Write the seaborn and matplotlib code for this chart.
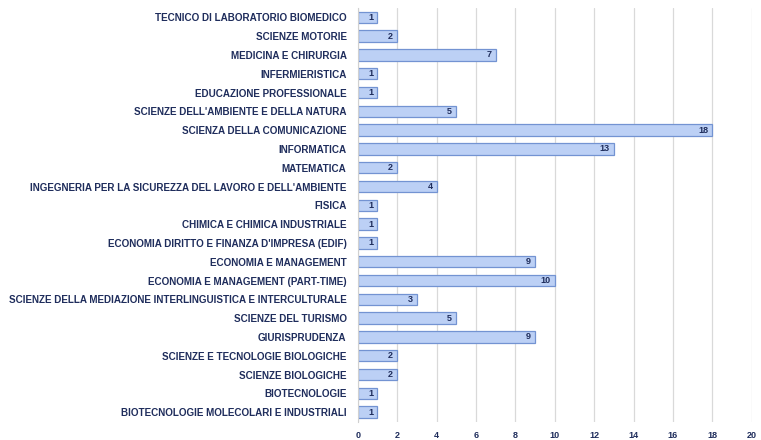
import matplotlib
matplotlib.use("Agg")
import matplotlib.pyplot as plt
import seaborn as sns
import pandas as pd

corsi = [
    "TECNICO DI LABORATORIO BIOMEDICO",
    "SCIENZE MOTORIE",
    "MEDICINA E CHIRURGIA",
    "INFERMIERISTICA",
    "EDUCAZIONE PROFESSIONALE",
    "SCIENZE DELL'AMBIENTE E DELLA NATURA",
    "SCIENZA DELLA COMUNICAZIONE",
    "INFORMATICA",
    "MATEMATICA",
    "INGEGNERIA PER LA SICUREZZA DEL LAVORO E DELL'AMBIENTE",
    "FISICA",
    "CHIMICA E CHIMICA INDUSTRIALE",
    "ECONOMIA DIRITTO E FINANZA D'IMPRESA (EDIF)",
    "ECONOMIA E MANAGEMENT",
    "ECONOMIA E MANAGEMENT (PART-TIME)",
    "SCIENZE DELLA MEDIAZIONE INTERLINGUISTICA E INTERCULTURALE",
    "SCIENZE DEL TURISMO",
    "GIURISPRUDENZA",
    "SCIENZE E TECNOLOGIE BIOLOGICHE",
    "SCIENZE BIOLOGICHE",
    "BIOTECNOLOGIE",
    "BIOTECNOLOGIE MOLECOLARI E INDUSTRIALI",
]
valori = [1, 2, 7, 1, 1, 5, 18, 13, 2, 4, 1, 1, 1, 9, 10, 3, 5, 9, 2, 2, 1, 1]
xticks = [0, 2, 4, 6, 8, 10, 12, 14, 16, 18, 20]

df = pd.DataFrame({"corso": corsi, "n": valori})

sns.set_style("white")
plt.rcParams["font.family"] = ["Liberation Sans Narrow", "Liberation Sans", "DejaVu Sans"]

testo = "#1f2d5c"

fig = plt.figure(figsize=(7.61, 4.4), dpi=100)
ax = fig.add_axes([0.470, 0.042, 0.518, 0.94])

sns.barplot(data=df, x="n", y="corso", orient="h", color="#bcd0f5",
            edgecolor="#7393d2", linewidth=0.9, width=0.6, saturation=1, ax=ax)

ax.set_xlim(0, 20)
ax.set_xticks(xticks)
ax.set_xticklabels([str(t) for t in xticks], fontsize=6.5, fontweight="bold", color=testo)
ax.tick_params(axis="y", labelsize=7.1, labelcolor=testo, length=0, pad=8)
for lab in ax.get_yticklabels():
    lab.set_fontweight("bold")
ax.tick_params(axis="x", length=0, pad=7)
ax.set_xlabel("")
ax.set_ylabel("")

ax.grid(axis="x", color="#d9d9d9", linewidth=0.9)
ax.set_axisbelow(True)
for s in ["top", "right", "bottom"]:
    ax.spines[s].set_visible(False)
ax.spines["left"].set_color("#d0d0d0")

etichette = ax.bar_label(ax.containers[0], padding=-3, fontsize=6.5, fontweight="bold", color=testo)
for t in etichette:
    t.set_ha("right")

fig.savefig("out.png", dpi=100)
